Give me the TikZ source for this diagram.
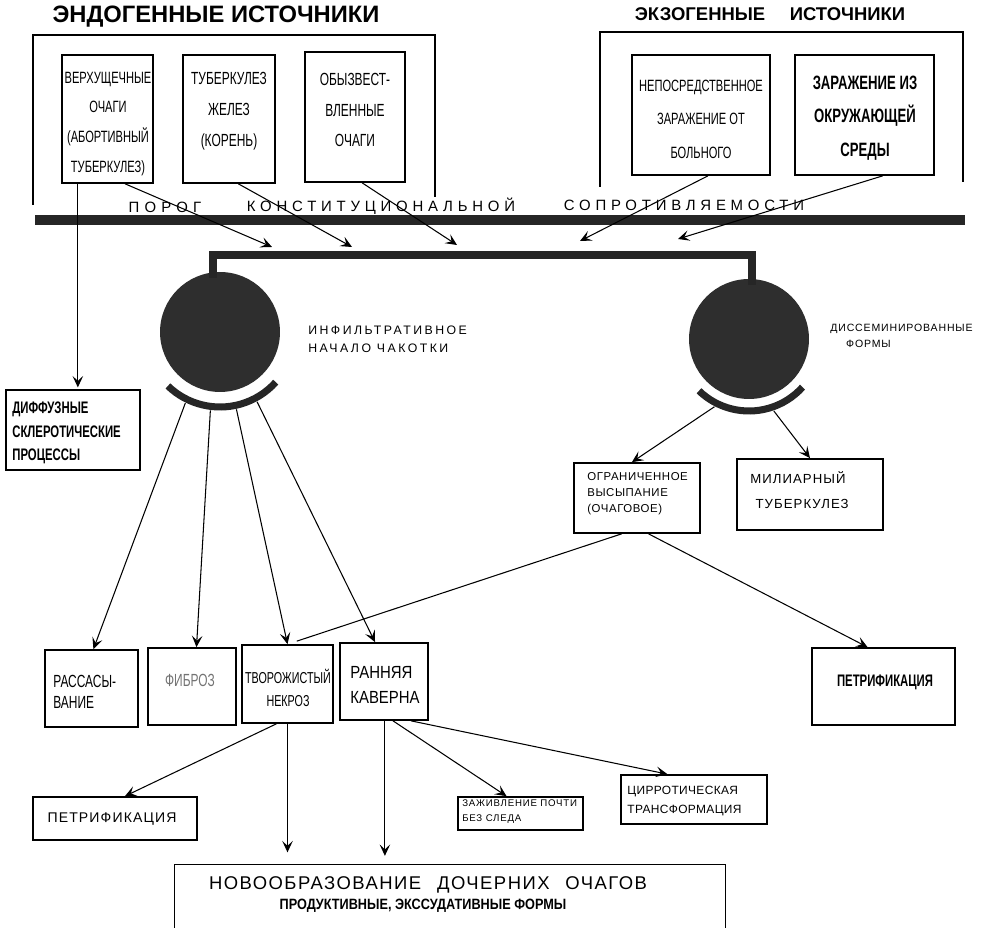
\documentclass[tikz,border=0pt]{standalone}
\usepackage{fontspec}
\setmainfont{Liberation Sans}
\newfontfamily\nar[FakeStretch=0.68]{Liberation Sans}
\newfontfamily\narm[FakeStretch=0.85]{Liberation Sans}
\usetikzlibrary{arrows.meta,calc,fit}
\newcommand{\myfs}[2]{\fontsize{#1}{#2}\selectfont}
\begin{document}
\begin{tikzpicture}[x=0.02cm,y=-0.02cm,
  box/.style={draw, line width=0.95pt, inner sep=0pt},
  frame/.style={line width=0.95pt},
  txt/.style={inner sep=0pt},
  ltxt/.style={inner sep=0pt, anchor=west, align=left},
  ctxt/.style={inner sep=0pt, align=center},
  arr/.style={line width=0.6pt, -{Stealth[length=6.5pt,width=6pt,inset=2.8pt]}},
  plain/.style={line width=0.6pt},
  bar/.style={line width=5.5pt, black!85},
  joint/.style={line width=4.5pt, black!85},
  cup/.style={line width=4pt, black!85},
  blob/.style={circle, fill=black!82, minimum size=2.4cm, inner sep=0pt},
]
\useasboundingbox (0,0) rectangle (981,928);

% titles
\node[font={\bfseries\myfs{13.5}{16}}] (tEn) at (216,17) {ЭНДОГЕННЫЕ ИСТОЧНИКИ};
\node[font={\bfseries\myfs{10.5}{13}}] (tEx) at (770,14) {ЭКЗОГЕННЫЕ\hspace{14pt}ИСТОЧНИКИ};

% open frames
\draw[frame] (33,205) -- (33,35) -- (435,35) -- (435,197);
\draw[frame] (600,187) -- (600,32) -- (963,32) -- (963,182);

% source boxes
\node[box, fit={(62,55)(153,183)}] (b1) {};
\node[ctxt, font={\nar\myfs{9.3}{17}}] (b1t) at (108,124) {ВЕРХУЩЕЧНЫЕ\\ОЧАГИ\\(АБОРТИВНЫЙ\\ТУБЕРКУЛЕЗ)};
\node[box, fit={(183,55)(275,183)}] (b2) {};
\node[ctxt, font={\nar\myfs{10}{17.5}}] (b2t) at (229,111) {ТУБЕРКУЛЕЗ\\ЖЕЛЕЗ\\(КОРЕНЬ)};
\node[box, fit={(305,52)(405,182)}] (b3) {};
\node[ctxt, font={\nar\myfs{10}{17.5}}] (b3t) at (355,110) {ОБЫЗВЕСТ-\\ВЛЕННЫЕ\\ОЧАГИ};
\node[box, fit={(632,55)(770,175)}] (b4) {};
\node[ctxt, font={\nar\myfs{9.3}{19}}] (b4t) at (701,119) {НЕПОСРЕДСТВЕННОЕ\\ЗАРАЖЕНИЕ ОТ\\БОЛЬНОГО};
\node[box, fit={(795,55)(934,175)}] (b5) {};
\node[ctxt, font={\nar\bfseries\myfs{11}{19}}] (b5t) at (865,118) {ЗАРАЖЕНИЕ ИЗ\\ОКРУЖАЮЩЕЙ\\СРЕДЫ};

% threshold
\node[font={\addfontfeature{LetterSpace=35}\myfs{8.5}{10}}] (p1) at (165,207) {ПОРОГ};
\node[font={\addfontfeature{LetterSpace=32}\myfs{8.5}{10}}] (p2) at (381,206) {КОНСТИТУЦИОНАЛЬНОЙ};
\node[font={\addfontfeature{LetterSpace=32}\myfs{8.5}{10}}] (p3) at (684,205) {СОПРОТИВЛЯЕМОСТИ};
\draw[bar] (35,220) -- (965,220);

% arrow tips above the collecting bar
\coordinate (t1) at (272,247);
\coordinate (t2) at (352,247);
\coordinate (t3) at (457,245);
\coordinate (t4) at (580,241);
\coordinate (t5) at (678,239);

% circles
\node[blob] (c1) at (220,332) {};
\node[blob] (c2) at (749,339) {};
\coordinate (j1) at (213,255);
\coordinate (j2) at (752,255);
\draw[joint] ($(c1.north -| j1)+(0,6)$) -- (j1) -- (j2) -- ($(c2.north -| j2)+(0,6)$);

% cups
\draw[cup] (c1.center) ++(134:75) arc[start angle=134, end angle=42, radius=75];
\draw[cup] (c2.center) ++(134:72) arc[start angle=134, end angle=42, radius=72];

% circle labels
\node[ltxt, font={\addfontfeature{LetterSpace=20}\myfs{7}{10.5}}] (l1) at (308,339)
  {ИНФИЛЬТРАТИВНОЕ\\НАЧАЛО ЧАКОТКИ};
\node[ltxt, font={\addfontfeature{LetterSpace=8}\myfs{6}{9.5}}] (l2) at (830,336)
  {ДИССЕМИНИРОВАННЫЕ\\\hspace{9pt}ФОРМЫ};

% diffuse
\node[box, fit={(6,390)(140,470)}] (dif) {};
\node[ltxt, font={\nar\bfseries\myfs{9.5}{13.5}}] (dift) at (12,433) {ДИФФУЗНЫЕ\\СКЛЕРОТИЧЕСКИЕ\\ПРОЦЕССЫ};

% right branch boxes
\node[box, fit={(574,463)(700,533)}] (og) {};
\node[ltxt, font={\addfontfeature{LetterSpace=5}\myfs{6.5}{9}}] (ogt) at (587,494) {ОГРАНИЧЕННОЕ\\ВЫСЫПАНИЕ\\(ОЧАГОВОЕ)};
\node[box, fit={(737,459)(883,530)}] (mil) {};
\node[ltxt, font={\addfontfeature{LetterSpace=8}\myfs{7.5}{14}}] (milt) at (750,490) {МИЛИАРНЫЙ\\\hspace{3pt}ТУБЕРКУЛЕЗ};
\node[box, fit={(812,648)(955,725)}] (pet2) {};
\node[txt, font={\nar\bfseries\myfs{9.5}{12}}] (pet2t) at (885,682) {ПЕТРИФИКАЦИЯ};

% lower boxes
\node[box, fit={(45,650)(138,727)}] (ras) {};
\node[ltxt, font={\nar\myfs{10}{12}}] (rast) at (53,692) {РАССАСЫ-\\ВАНИЕ};
\node[box, fit={(148,648)(236,725)}] (fib) {};
\node[txt, font={\nar\myfs{10}{12}}, text=black!55] (fibt) at (190,680) {ФИБРОЗ};
\node[box, fit={(242,645)(333,723)}] (tvo) {};
\node[ctxt, font={\nar\myfs{9}{13.5}}] (tvot) at (288,688) {ТВОРОЖИСТЫЙ\\НЕКРОЗ};
\node[box, fit={(340,643)(428,720)}] (kav) {};
\node[ltxt, font={\narm\myfs{10}{14}}] (kavt) at (350,685) {РАННЯЯ\\КАВЕРНА};

\node[box, fit={(33,797)(197,840)}] (pet1) {};
\node[txt, font={\addfontfeature{LetterSpace=8}\myfs{8}{10}}] (pet1t) at (112,819) {ПЕТРИФИКАЦИЯ};
\node[box, fit={(458,797)(583,830)}] (zaj) {};
\node[ltxt, font={\addfontfeature{LetterSpace=8}\myfs{5.5}{8.5}}] (zajt) at (462,812) {ЗАЖИВЛЕНИЕ ПОЧТИ\\БЕЗ СЛЕДА};
\node[box, fit={(621,775)(767,824)}] (cir) {};
\node[ltxt, font={\addfontfeature{LetterSpace=3}\myfs{6.8}{11}}] (cirt) at (627,801) {ЦИРРОТИЧЕСКАЯ\\ТРАНСФОРМАЦИЯ};

% bottom open box
\node[fit={(175,865)(725,928)}, inner sep=0pt] (nov) {};
\draw[frame] (nov.south west) -- (nov.north west) -- (nov.north east) -- (nov.south east);
\node[txt, font={\addfontfeature{LetterSpace=8}\myfs{10.5}{12}}] (novt1) at (428,885)
  {НОВООБРАЗОВАНИЕ\hspace{9pt}ДОЧЕРНИХ\hspace{9pt}ОЧАГОВ};
\node[txt, font={\narm\bfseries\myfs{8.5}{10}}] (novt2) at (423,906) {ПРОДУКТИВНЫЕ, ЭКССУДАТИВНЫЕ ФОРМЫ};

% connectors: sources to bar
\draw[arr] ($(b1.south west)!0.69!(b1.south east)$) -- (t1);
\draw[arr] ($(b2.south west)!0.60!(b2.south east)$) -- (t2);
\draw[arr] ($(b3.south west)!0.57!(b3.south east)$) -- (t3);
\draw[arr] ($(b4.south west)!0.55!(b4.south east)$) -- (t4);
\draw[arr] ($(b5.south west)!0.63!(b5.south east)$) -- (t5);
\draw[arr, shorten >=1pt] ($(b1.south west)!0.18!(b1.south east)$) coordinate (v1) -- (v1 |- dif.north);

% connectors from left cup
\draw[arr] ($(c1.center)+(116:79)$) -- ($(ras.north west)!0.52!(ras.north east)$);
\draw[arr] ($(c1.center)+(97:79)$) -- ($(fib.north west)!0.55!(fib.north east)$);
\draw[arr] ($(c1.center)+(78:79)$) -- ($(tvo.north west)!0.50!(tvo.north east)$);
\draw[arr] ($(c1.center)+(62:79)$) -- ($(kav.north west)!0.40!(kav.north east)$);

% connectors from right cup
\draw[arr] ($(c2.center)+(117:76)$) -- ($(og.north west)!0.46!(og.north east)$);
\draw[arr] ($(c2.center)+(71:76)$) -- ($(mil.north west)!0.50!(mil.north east)$);

% from og
\draw[plain] ($(og.south west)!0.38!(og.south east)$) -- ($(tvo.north west)!0.60!(tvo.north east)+(0,-3)$);
\draw[arr] ($(og.south west)!0.59!(og.south east)$) -- ($(pet2.north west)!0.39!(pet2.north east)$);

% from tvo
\draw[arr] ($(tvo.south west)!0.38!(tvo.south east)$) -- ($(pet1.north west)!0.56!(pet1.north east)$);
\draw[arr, shorten >=7pt] ($(tvo.south west)!0.5!(tvo.south east)$) coordinate (v2) -- (v2 |- nov.north);

% from kav
\draw[arr, shorten >=5pt] ($(kav.south west)!0.51!(kav.south east)$) coordinate (v3) -- (v3 |- nov.north);
\draw[arr] ($(kav.south west)!0.60!(kav.south east)$) -- ($(zaj.north west)!0.39!(zaj.north east)$);
\draw[arr] ($(kav.south west)!0.80!(kav.south east)$) -- ($(cir.north west)!0.32!(cir.north east)$);
\end{tikzpicture}
\end{document}
